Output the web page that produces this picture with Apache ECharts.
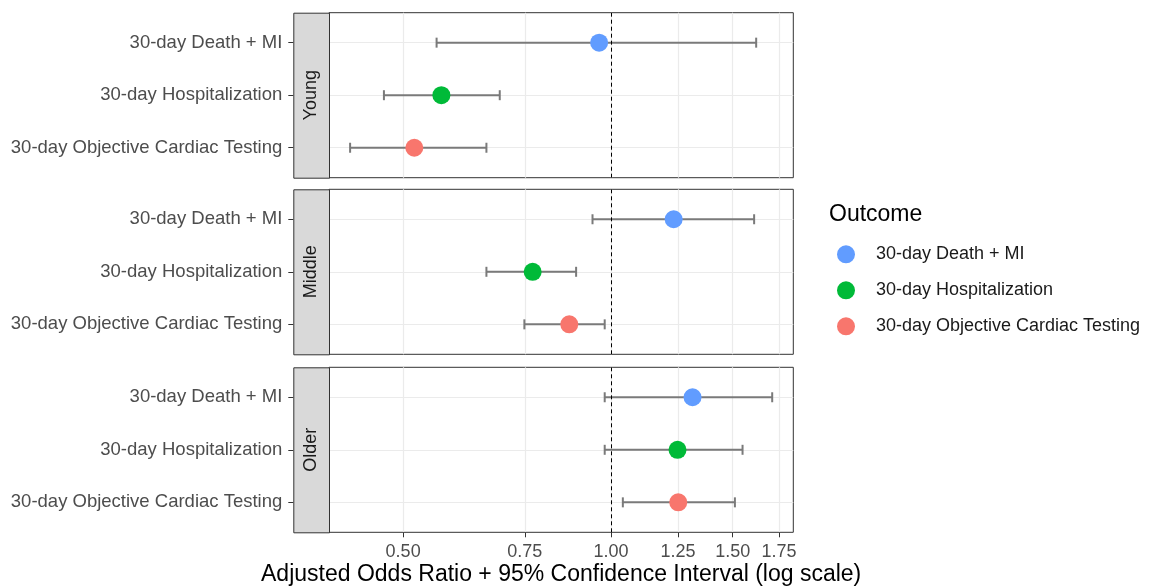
<!DOCTYPE html>
<html>
<head>
<meta charset="utf-8">
<script src="https://cdn.jsdelivr.net/npm/echarts@6/dist/echarts.min.js"></script>
<style>
html,body{margin:0;padding:0;background:#fff;}
#chart{width:1149px;height:587px;}
</style>
</head>
<body>
<div id="chart"></div>
<script>
// ---- data (odds ratios) ----
const outcomes = ['30-day Death + MI', '30-day Hospitalization', '30-day Objective Cardiac Testing'];
const groups = ['Young', 'Middle', 'Older'];
const youngOR = [0.961, 0.568, 0.519];
const youngLo = [0.559, 0.469, 0.419];
const youngHi = [1.622, 0.690, 0.660];
const middleOR = [1.232, 0.770, 0.870];
const middleLo = [0.940, 0.660, 0.749];
const middleHi = [1.611, 0.890, 0.979];
const olderOR = [1.312, 1.248, 1.251];
const olderLo = [0.979, 0.979, 1.040];
const olderHi = [1.711, 1.550, 1.511];
const xTicks = [0.5, 0.75, 1, 1.25, 1.5, 1.75];
const refLine = 1;

// ---- style / layout ----
const colors = ['#619CFF', '#00BA38', '#F8766D'];
const FONT = "'Liberation Sans', Arial, sans-serif";
const panelTops = [12.7, 189.3, 367.3];
const panelH = 165;
const panelLeft = 329;
const panelRight = 1149 - 793.3;
const stripW = 35.7;

const groupData = [
  {or: youngOR, lo: youngLo, hi: youngHi},
  {or: middleOR, lo: middleLo, hi: middleHi},
  {or: olderOR, lo: olderLo, hi: olderHi}
];

const ln = Math.log;
const allLo = [].concat(youngLo, middleLo, olderLo).map(ln);
const allHi = [].concat(youngHi, middleHi, olderHi).map(ln);
const dMin = Math.min.apply(null, allLo), dMax = Math.max.apply(null, allHi);
const pad = (dMax - dMin) * 0.05;
const xMin = dMin - pad, xMax = dMax + pad;
const tickVals = xTicks.map(ln);

const grids = [], xAxes = [], yAxes = [], series = [], graphics = [];

groups.forEach(function (g, gi) {
  const last = gi === groups.length - 1;
  grids.push({
    left: panelLeft, right: panelRight, top: panelTops[gi], height: panelH,
    containLabel: false, outerBoundsMode: 'none',
    show: true, borderColor: '#333333', borderWidth: 1, backgroundColor: '#fff', z: 0
  });
  xAxes.push({
    type: 'value', gridIndex: gi, min: xMin, max: xMax, position: 'bottom',
    axisLine: {show: false, onZero: false},
    axisTick: {show: last, customValues: tickVals, length: 5, lineStyle: {color: '#333333', width: 1}},
    axisLabel: {show: last, customValues: tickVals, margin: 11, fontSize: 18, fontFamily: FONT, color: '#4D4D4D',
      formatter: function (v) { return Math.exp(v).toFixed(2); }},
    splitLine: {show: true, lineStyle: {color: '#EBEBEB', width: 1.2}},
    name: last ? 'Adjusted Odds Ratio + 95% Confidence Interval (log scale)' : '',
    nameLocation: 'middle', nameGap: 31,
    nameTextStyle: {fontSize: 23, fontFamily: FONT, color: '#000'}
  });
  yAxes.push({
    type: 'value', gridIndex: gi, min: -0.57, max: 2.57, inverse: true, offset: stripW, position: 'left',
    axisLine: {show: false, onZero: false},
    axisTick: {show: true, customValues: [0, 1, 2], length: 5, lineStyle: {color: '#333333', width: 1}},
    axisLabel: {show: true, customValues: [0, 1, 2], margin: 11, fontSize: 18.5, fontFamily: FONT, color: '#4D4D4D',
      formatter: function (v) { return outcomes[Math.round(v)]; }},
    splitLine: {show: true, lineStyle: {color: '#EBEBEB', width: 1.2}}
  });

  const d = groupData[gi];
  // error bars
  series.push({
    type: 'custom', xAxisIndex: gi, yAxisIndex: gi, silent: true, z: 2,
    data: outcomes.map(function (o, i) { return [ln(d.lo[i]), ln(d.hi[i]), i]; }),
    renderItem: function (params, api) {
      const p1 = api.coord([api.value(0), api.value(2)]);
      const p2 = api.coord([api.value(1), api.value(2)]);
      const h = 5;
      const st = {stroke: '#7A7A7A', lineWidth: 2};
      return {type: 'group', children: [
        {type: 'line', shape: {x1: p1[0], y1: p1[1], x2: p2[0], y2: p2[1]}, style: st},
        {type: 'line', shape: {x1: p1[0], y1: p1[1] - h, x2: p1[0], y2: p1[1] + h}, style: st},
        {type: 'line', shape: {x1: p2[0], y1: p2[1] - h, x2: p2[0], y2: p2[1] + h}, style: st}
      ]};
    },
    markLine: {
      silent: true, symbol: ['none', 'none'], label: {show: false},
      lineStyle: {color: '#000', type: [4, 3], width: 1},
      data: [{xAxis: ln(refLine)}]
    }
  });
  // points
  outcomes.forEach(function (o, i) {
    series.push({
      type: 'scatter', name: o, xAxisIndex: gi, yAxisIndex: gi, z: 3,
      symbol: 'circle', symbolSize: 18,
      itemStyle: {color: colors[i], opacity: 1},
      data: [[ln(d.or[i]), i]]
    });
  });
  // strip
  graphics.push({
    type: 'rect', left: 293.3, top: panelTops[gi], z: 10,
    shape: {width: stripW, height: panelH},
    style: {fill: '#D9D9D9', stroke: '#333333', lineWidth: 1}
  });
  graphics.push({
    type: 'text', x: 293.3 + stripW / 2, y: panelTops[gi] + panelH / 2, rotation: Math.PI / 2, z: 11,
    style: {text: g, fill: '#1A1A1A', fontSize: 18, fontFamily: FONT, align: 'center', verticalAlign: 'middle'}
  });
});

graphics.push({
  type: 'text', x: 829, y: 215, z: 11,
  style: {text: 'Outcome', fill: '#000', fontSize: 23, fontFamily: FONT, align: 'left', verticalAlign: 'middle'}
});

const option = {
  animation: false,
  backgroundColor: '#fff',
  grid: grids, xAxis: xAxes, yAxis: yAxes, series: series,
  graphic: graphics,
  legend: {
    data: outcomes, orient: 'vertical', left: 832, top: 240.3,
    icon: 'circle', itemWidth: 50, itemHeight: 18, itemGap: 18,
    textStyle: {fontSize: 18, fontFamily: FONT, color: '#1A1A1A'},
    selectedMode: false
  }
};

const chart = echarts.init(document.getElementById('chart'), null, {renderer: 'canvas'});
chart.setOption(option);
</script>
</body>
</html>
